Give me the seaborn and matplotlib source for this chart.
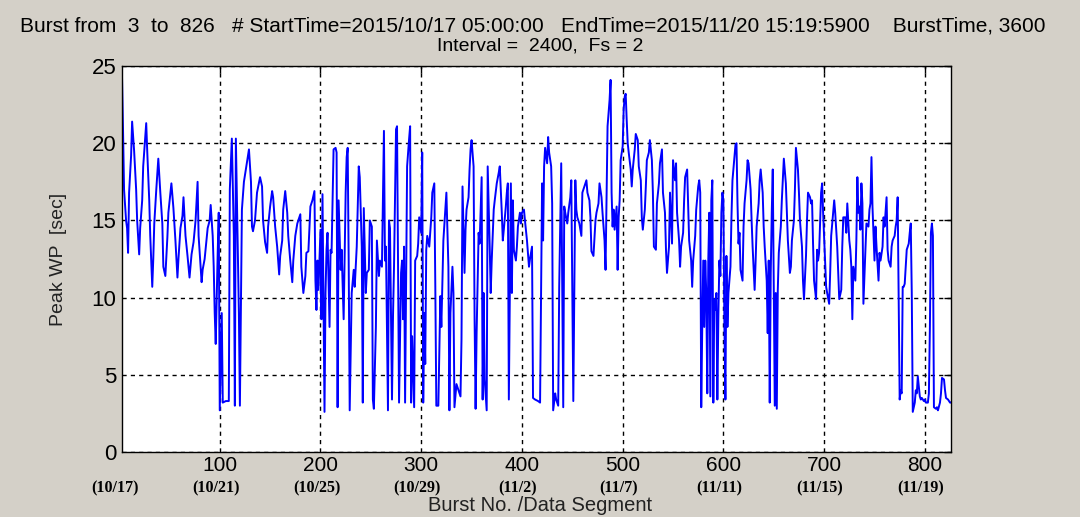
import numpy as np
import pandas as pd
import matplotlib
matplotlib.use("Agg")
import matplotlib.pyplot as plt
import matplotlib.transforms as mtransforms
import seaborn as sns

# ---- data ----
bursts = [
    3, 4, 5, 7, 8, 9, 10, 12, 13, 15, 17, 18, 20, 21, 23, 24, 27, 28, 30, 31,
    33, 34, 35, 37, 39, 41, 43, 44, 46, 48, 49, 52, 54, 56, 58, 59, 61, 63, 64, 66,
    68, 70, 72, 74, 76, 78, 79, 82, 83, 85, 88, 90, 91, 93, 94, 95, 96, 98, 99, 100,
    102, 103, 106, 109, 110, 112, 114, 115, 116, 118, 119, 120, 122, 124, 128, 129, 131, 132, 133, 135,
    137, 140, 142, 143, 145, 147, 148, 150, 152, 153, 155, 157, 159, 160, 162, 163, 165, 167, 168, 170,
    172, 173, 175, 177, 180, 181, 183, 185, 186, 188, 190, 192, 194, 195, 196, 197, 198, 200, 201, 202,
    204, 205, 206, 207, 209, 210, 211, 213, 215, 216, 217, 218, 220, 221, 223, 225, 226, 227, 228, 229,
    231, 233, 234, 236, 238, 239, 241, 242, 243, 245, 246, 248, 249, 251, 252, 253, 255, 256, 258, 259,
    261, 263, 264, 265, 267, 268, 269, 271, 272, 273, 274, 275, 276, 277, 278, 280, 281, 282, 283, 284,
    286, 288, 289, 290, 291, 293, 294, 296, 297, 298, 300, 301, 302, 303, 304, 305, 306, 308, 310, 311,
    313, 314, 315, 317, 319, 320, 322, 324, 325, 327, 328, 329, 331, 332, 333, 335, 337, 339, 340, 341,
    343, 344, 345, 347, 348, 349, 350, 352, 353, 354, 355, 357, 358, 360, 361, 362, 363, 365, 366, 368,
    369, 370, 372, 373, 375, 377, 378, 380, 381, 382, 384, 385, 386, 387, 389, 390, 391, 392, 394, 395,
    396, 398, 399, 400, 402, 403, 405, 407, 408, 410, 411, 413, 416, 418, 419, 420, 421, 422, 423, 425,
    426, 427, 429, 430, 431, 433, 434, 436, 437, 439, 440, 441, 442, 443, 445, 446, 448, 449, 450, 451,
    453, 454, 455, 457, 459, 460, 462, 464, 465, 467, 468, 469, 471, 473, 474, 476, 477, 479, 480, 482,
    483, 484, 485, 487, 488, 489, 490, 491, 492, 494, 495, 496, 497, 498, 500, 501, 502, 503, 504, 505,
    506, 508, 509, 510, 512, 513, 515, 516, 518, 519, 520, 522, 523, 524, 526, 527, 529, 530, 531, 533,
    534, 536, 537, 539, 540, 542, 543, 544, 546, 547, 549, 550, 552, 553, 554, 556, 557, 558, 560, 561,
    562, 564, 565, 566, 568, 569, 570, 572, 573, 575, 576, 577, 578, 579, 580, 581, 582, 583, 584, 585,
    586, 587, 588, 589, 590, 591, 592, 593, 594, 595, 596, 597, 598, 599, 600, 601, 602, 603, 604, 605,
    607, 608, 609, 611, 612, 613, 614, 615, 616, 617, 619, 620, 621, 623, 624, 625, 627, 628, 629, 631,
    632, 633, 635, 636, 637, 639, 640, 641, 643, 644, 645, 646, 647, 648, 649, 650, 651, 652, 653, 654,
    655, 657, 658, 659, 660, 662, 663, 664, 666, 667, 668, 670, 671, 672, 674, 675, 676, 678, 679, 680,
    682, 683, 684, 686, 687, 688, 689, 690, 692, 693, 694, 695, 697, 698, 699, 701, 702, 703, 705, 706,
    707, 709, 710, 711, 713, 714, 715, 717, 718, 719, 721, 722, 723, 725, 726, 727, 728, 729, 731, 732,
    733, 734, 735, 736, 737, 738, 739, 740, 741, 742, 744, 745, 746, 747, 748, 750, 751, 752, 754, 755,
    756, 758, 759, 760, 762, 763, 764, 766, 767, 768, 770, 771, 772, 773, 774, 775, 776, 777, 778, 779,
    780, 782, 783, 784, 785, 786, 787, 788, 790, 791, 792, 793, 795, 796, 797, 799, 800, 801, 803, 804,
    805, 806, 807, 808, 809, 811, 812, 813, 815, 816, 817, 819, 820, 821, 823, 824, 825, 826,
]
peak_wp = [
    24.2, 20.8, 17.0, 15.0, 14.5, 12.9, 16.8, 19.2, 21.4, 19.5, 17.0, 15.0, 12.8, 14.5, 16.3, 18.5, 21.3, 19.5, 16.3, 14.0,
    10.7, 12.5, 14.8, 17.0, 19.0, 16.8, 14.8, 12.0, 11.4, 13.9, 15.5, 17.4, 15.8, 13.7, 11.3, 12.5, 14.5, 15.3, 16.5, 14.0,
    12.7, 11.3, 12.8, 13.6, 15.0, 17.5, 14.0, 11.0, 11.8, 12.5, 14.5, 15.0, 16.0, 14.0, 12.0, 9.0, 7.0, 13.0, 15.5, 2.7,
    9.0, 3.2, 3.3, 3.3, 17.0, 20.3, 14.0, 3.0, 20.3, 13.0, 9.0, 3.0, 15.7, 17.5, 19.2, 19.6, 17.5, 14.6, 14.3, 15.0,
    16.8, 17.8, 17.2, 15.0, 13.6, 12.9, 14.6, 15.9, 16.9, 16.5, 14.6, 13.3, 11.5, 12.7, 13.7, 15.7, 16.9, 15.5, 14.0, 12.4,
    11.0, 12.4, 14.0, 14.8, 15.4, 12.0, 10.3, 11.4, 12.9, 13.0, 15.9, 16.3, 16.9, 11.1, 9.2, 12.4, 10.5, 14.4, 8.6, 16.7,
    2.6, 10.3, 13.1, 14.2, 8.1, 13.1, 12.9, 19.6, 19.7, 19.4, 2.9, 16.3, 11.8, 13.1, 8.6, 16.8, 19.1, 19.7, 12.4, 2.7,
    10.3, 11.8, 10.7, 13.3, 18.5, 17.8, 13.3, 3.2, 15.8, 10.3, 11.6, 11.8, 15.0, 14.6, 3.4, 2.8, 8.1, 13.7, 11.4, 12.4,
    12.0, 20.8, 12.4, 13.3, 2.7, 15.0, 14.5, 3.4, 8.8, 12.0, 16.5, 20.9, 21.1, 12.4, 3.2, 11.6, 12.4, 8.6, 13.3, 3.2,
    18.5, 20.3, 21.1, 3.2, 7.5, 2.9, 12.4, 12.7, 13.5, 15.2, 14.2, 19.4, 3.2, 9.0, 5.7, 13.1, 14.0, 13.3, 15.2, 16.8,
    17.4, 10.7, 3.0, 3.0, 10.1, 8.1, 13.7, 15.7, 16.8, 12.0, 2.7, 9.0, 12.0, 10.3, 2.9, 4.4, 4.0, 3.6, 7.3, 17.2,
    11.6, 14.4, 15.7, 16.5, 18.3, 19.6, 20.2, 18.5, 8.6, 2.8, 7.7, 14.2, 13.5, 17.8, 3.4, 10.3, 4.7, 2.7, 18.5, 13.3,
    10.3, 12.4, 15.7, 16.3, 17.4, 18.1, 18.5, 15.5, 13.7, 14.4, 15.9, 16.8, 17.4, 3.4, 17.4, 10.3, 16.3, 13.1, 12.4, 13.3,
    14.6, 15.5, 14.8, 15.5, 15.7, 15.0, 13.7, 12.0, 12.5, 13.3, 3.5, 3.4, 3.3, 3.2, 10.3, 17.4, 13.7, 18.5, 19.7, 18.7,
    20.4, 19.4, 18.5, 16.1, 2.7, 3.8, 3.4, 3.0, 10.7, 18.7, 10.7, 2.9, 15.9, 15.5, 14.8, 15.5, 16.5, 17.6, 10.5, 3.3,
    17.6, 15.7, 15.2, 14.8, 14.0, 16.8, 17.2, 17.6, 16.8, 16.3, 15.2, 13.0, 12.7, 15.0, 15.5, 16.1, 17.4, 16.5, 15.5, 13.7,
    11.8, 16.3, 21.1, 22.8, 24.1, 16.8, 14.6, 15.7, 14.4, 15.9, 11.8, 15.2, 16.3, 18.9, 19.8, 22.2, 23.0, 23.2, 21.5, 20.0,
    19.4, 18.3, 17.2, 18.3, 19.6, 20.6, 20.2, 18.5, 17.6, 15.2, 14.4, 15.7, 17.2, 18.9, 19.4, 20.2, 18.9, 16.8, 13.3, 13.1,
    16.1, 17.4, 18.7, 19.6, 16.8, 15.5, 13.1, 11.6, 13.3, 16.8, 13.5, 18.9, 17.6, 18.7, 15.5, 13.7, 12.0, 13.3, 14.2, 16.3,
    17.8, 18.3, 15.9, 13.7, 12.4, 10.7, 12.4, 14.0, 15.7, 17.2, 17.6, 16.8, 2.9, 8.1, 12.4, 8.1, 12.4, 10.3, 3.8, 12.4,
    15.5, 3.6, 16.3, 17.6, 3.2, 9.9, 9.2, 10.3, 3.4, 8.8, 12.4, 11.4, 15.5, 16.8, 16.3, 8.1, 3.4, 12.7, 8.1, 10.3,
    12.0, 15.2, 17.6, 19.1, 19.9, 20.0, 16.1, 13.5, 14.2, 11.8, 11.1, 14.6, 16.1, 17.6, 18.9, 18.7, 17.0, 15.0, 13.3, 10.5,
    12.4, 14.6, 16.1, 17.6, 18.3, 16.8, 14.6, 13.3, 11.1, 7.7, 12.4, 3.2, 11.6, 15.5, 18.3, 10.3, 3.0, 10.3, 2.8, 10.5,
    12.9, 14.6, 16.3, 17.6, 19.0, 17.4, 15.5, 13.7, 11.6, 12.0, 13.7, 15.0, 17.0, 19.7, 18.3, 16.8, 15.0, 13.3, 11.1, 9.9,
    12.7, 15.0, 16.8, 16.5, 16.1, 16.3, 13.5, 11.1, 9.9, 13.1, 12.4, 12.9, 16.8, 17.4, 15.5, 12.4, 10.7, 10.3, 9.6, 11.6,
    14.0, 15.5, 16.3, 15.5, 13.3, 11.6, 9.9, 10.5, 13.3, 15.2, 15.2, 14.2, 16.1, 13.7, 13.1, 12.0, 8.6, 12.0, 11.1, 13.7,
    17.8, 15.5, 15.9, 14.4, 17.4, 16.1, 9.6, 11.4, 13.1, 14.8, 14.6, 15.7, 16.1, 19.1, 15.9, 12.4, 14.6, 13.3, 11.1, 12.9,
    12.4, 13.3, 15.2, 14.6, 16.5, 13.1, 12.4, 12.0, 13.3, 13.7, 14.0, 14.6, 15.0, 16.5, 10.1, 3.4, 4.0, 3.8, 10.7, 10.7,
    10.9, 13.1, 13.3, 13.5, 14.2, 14.8, 10.3, 2.6, 3.2, 4.0, 3.8, 4.9, 3.6, 3.4, 3.5, 3.3, 3.4, 3.2, 3.2, 3.8,
    8.1, 14.2, 14.8, 14.0, 2.9, 2.8, 2.9, 2.7, 3.2, 3.8, 4.8, 4.7, 4.0, 3.5, 3.4, 3.3, 3.2, 3.2,
]
x_ticks = [100, 200, 300, 400, 500, 600, 700, 800]
date_ticks = [0, 100, 200, 300, 400, 500, 600, 700, 800]
date_labels = ["(10/17)", "(10/21)", "(10/25)", "(10/29)", "(11/2)",
               "(11/7)", "(11/11)", "(11/15)", "(11/19)"]
y_ticks = [0, 5, 10, 15, 20, 25]

title_line1 = ("Burst from  3  to  826   # StartTime=2015/10/17 05:00:00   "
               "EndTime=2015/11/20 15:19:5900    BurstTime, 3600")
title_line2 = "Interval =  2400,  Fs = 2"

df = pd.DataFrame({"burst": bursts, "peak": peak_wp})

sns.set_theme(style="white")
BG = "#d4d0c8"
plt.rcParams["font.family"] = ["Liberation Sans", "DejaVu Sans"]
plt.rcParams["text.color"] = "black"
plt.rcParams["axes.labelcolor"] = "black"
plt.rcParams["xtick.color"] = "black"
plt.rcParams["ytick.color"] = "black"

fig = plt.figure(figsize=(10.8, 5.17), dpi=100, facecolor=BG)
ax = fig.add_axes([0.113, 0.1257, 0.7676, 0.7466])
ax.set_facecolor("white")

sns.lineplot(data=df, x="burst", y="peak", ax=ax, color="#0000ff",
             linewidth=1.4, estimator=None, sort=True)

ax.set_xlim(3, 826)
ax.set_ylim(0, 25)
ax.set_xticks(x_ticks)
ax.set_xticklabels([str(t) for t in x_ticks], fontsize=15)
ax.set_yticks(y_ticks)
ax.set_yticklabels([str(t) for t in y_ticks], fontsize=16)
ax.tick_params(axis="both", direction="in", length=5, width=1,
               colors="black", labelcolor="black", top=True, right=True, pad=4)
ax.tick_params(axis="x", pad=3)

ax.grid(True, color="black", linestyle=(0, (3, 3)), linewidth=1.0)
for s in ax.spines.values():
    s.set_color("black")
    s.set_linewidth(1.0)

ax.set_xlabel("")
ax.set_ylabel("Peak WP  [sec]", fontsize=14, labelpad=18, color="#222222")

trans = mtransforms.blended_transform_factory(ax.transData, ax.transAxes)
for xd, lab in zip(date_ticks, date_labels):
    ax.text(xd - 4, -0.095, lab, transform=trans, ha="center", va="center",
            fontsize=11.5, fontweight="bold", family="Liberation Serif",
            color="black", clip_on=False)

fig.text(0.5, 0.022, "Burst No. /Data Segment", ha="center", va="center",
         fontsize=14.5, color="#222222")
fig.text(0.493, 0.950, title_line1, ha="center", va="center", fontsize=15,
         color="black")
fig.text(0.5, 0.911, title_line2, ha="center", va="center", fontsize=14,
         color="black")

fig.savefig("out.png", dpi=100, facecolor=BG)
